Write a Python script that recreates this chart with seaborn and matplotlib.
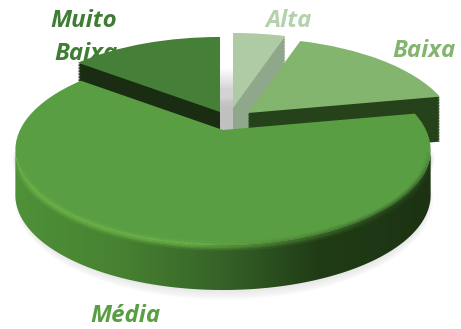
import numpy as np
import matplotlib
matplotlib.use("Agg")
import matplotlib.pyplot as plt
import seaborn as sns
from matplotlib.collections import LineCollection
from matplotlib.colors import LinearSegmentedColormap, to_rgb
from matplotlib.patches import Ellipse, Polygon
from matplotlib.transforms import Transform

categories = ["Alta", "Baixa", "Média", "Muito Baixa"]
values = [5.0, 17.0, 63.5, 14.5]
top_colors = ["#AECBA5", "#84B56F", "#5A9E44", "#457F38"]
wall_colors = ["#8FA88C", "#26421A", "#2C5220", "#1A2D12"]
label_colors = ["#B5D0AC", "#84B56F", "#5A9E44", "#3F7D35"]

sns.set_theme(style="white")
plt.rcParams["font.family"] = ["Open Sans", "DejaVu Sans"]

W, H = 461, 329
START = 90.0
DEPTH = 45
TILT = 0.2105


class Tilted(Transform):
    """Projects the unit disc of the pie onto a tilted plane, in pixels."""
    input_dims = 2
    output_dims = 2
    is_separable = False
    has_inverse = False

    def __init__(self, cx, cy):
        super().__init__()
        self.cx, self.cy = cx, cy

    def transform_non_affine(self, values):
        v = np.asarray(values, dtype=float)
        w = 1 + TILT * v[:, 1]
        return np.column_stack((self.cx + 203 * v[:, 0] / w,
                                self.cy - 90.8 * v[:, 1] / w))


fig = plt.figure(figsize=(W / 100, H / 100), dpi=100, facecolor="white")
ax = fig.add_axes([0, 0, 1, 1])


def draw_slice(index, cx, cy, color, zorder):
    wedges, _ = ax.pie(values, startangle=START, counterclock=False,
                       colors=top_colors, wedgeprops={"linewidth": 0})
    for i, wedge in enumerate(wedges):
        if i != index:
            wedge.remove()
    wedge = wedges[index]
    wedge.set_transform(Tilted(cx, cy) + ax.transData)
    wedge.set_facecolor(color)
    wedge.set_zorder(zorder)
    return wedge


# Category labels sit under the pie, so the slices may overlap them
label_font = dict(fontsize=17.3, fontweight="bold", style="italic",
                  ha="center", va="center", zorder=1)
ax.text(84, 21, "Muito", color=label_colors[3], **label_font)
ax.text(86, 54, "Baixa", color=label_colors[3], **label_font)
ax.text(289, 21, categories[0], color=label_colors[0], **label_font)
ax.text(424, 51, categories[1], color=label_colors[1], **label_font)
ax.text(125, 316, categories[2], color=label_colors[2], **label_font)

# Soft shadow on the ground below the disc
for grow in range(10):
    ax.add_patch(Ellipse((224, 199), 2 * (204 + 0.6 * grow), 2 * (92 + grow),
                         color="#909090", alpha=0.018, lw=0, zorder=2))
# Darkening of the ground seen through the gap between the slices
for step in range(22):
    ax.add_patch(Ellipse((224, 150), 400, 2 * (82 - step),
                         color="#707070", alpha=0.012, lw=0, zorder=2))

# Apex of each slice's top face, pulled away from the centre
offsets = {0: (233, 108), 1: (248, 113), 3: (220, 112)}
for index, (cx, cy) in offsets.items():
    for d in np.arange(DEPTH, 0, -1.5):
        draw_slice(index, cx, cy + d, wall_colors[index], 3)
    draw_slice(index, cx, cy, top_colors[index], 4)

# Front slice: gradient wall, top face and bevelled rim
MID = 2
mx, my = 223, 130
end = START - 360 * sum(values[:MID]) / 100
begin = end - 360 * values[MID] / 100
theta = np.radians(np.linspace(begin, end, 400))
unit = np.column_stack((np.cos(theta), np.sin(theta)))
rim = Tilted(mx, my).transform_non_affine(unit)

# The visible wall runs between the two horizontal extremes of the rim
front = rim[np.argmin(rim[:, 0]):np.argmax(rim[:, 0]) + 1]
lower = front + [0, DEPTH]
wall = Polygon(np.vstack((front, lower[::-1])), closed=True,
               transform=ax.transData, facecolor="none", edgecolor="none")
ax.add_patch(wall)
wall_cmap = LinearSegmentedColormap.from_list(
    "wall", [(0, "#4F9138"), (0.25, "#478232"), (0.5, "#356127"),
             (0.72, "#203C16"), (1, "#1C3212")])
shade = ax.imshow(np.linspace(0, 1, 256)[None, :], cmap=wall_cmap,
                  extent=(14, 436, 300, 60), aspect="auto", zorder=5)
shade.set_clip_path(wall)
draw_slice(MID, mx, my, top_colors[MID], 6)

# Bevel: bright on the left of the rim, dark on the right, fading at both ends
points = front + [0, 1]
segments = np.stack((points[:-1], points[1:]), axis=1)
light = np.array(to_rgb("#6FB648"))
dark = np.array(to_rgb("#2A4F1E"))
mix = np.clip((segments[:, 0, 0] - 190) / 190, 0, 1)[:, None]
rim_colors = light * (1 - mix) + dark * mix
position = np.linspace(0, 1, len(segments))
fade = np.clip(np.minimum(position, 1 - position) / 0.14, 0, 1)
for width, alpha in [(7, 0.18), (4.5, 0.3), (2.5, 0.5)]:
    rgba = np.column_stack((rim_colors, alpha * fade))
    ax.add_collection(LineCollection(segments, colors=rgba, linewidths=width,
                                     capstyle="butt", zorder=7))

ax.set_aspect("auto")
ax.set_xlim(0, W)
ax.set_ylim(H, 0)
ax.set_axis_off()
fig.savefig("out.png", dpi=100, facecolor="white")
